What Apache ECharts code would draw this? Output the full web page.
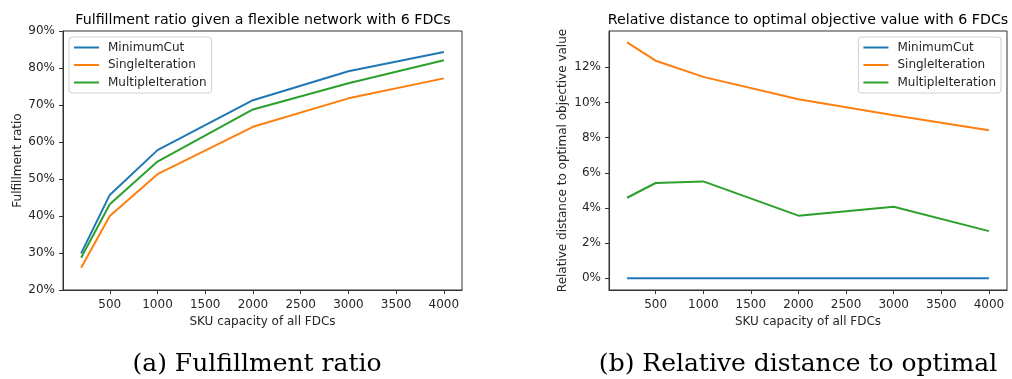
<!DOCTYPE html>
<html>
<head>
<meta charset="utf-8">
<script src="https://cdn.jsdelivr.net/npm/echarts@6/dist/echarts.min.js"></script>
<style>
  html, body { margin: 0; padding: 0; background: #fff; }
  #chart { width: 1012px; height: 379px; }
</style>
</head>
<body>
<div id="chart"></div>
<script>
// SKU capacity of all FDCs
var capacity = [200, 500, 1000, 2000, 3000, 4000];
var xTicks = [500, 1000, 1500, 2000, 2500, 3000, 3500, 4000];

// (a) fulfillment ratio, %
var fillMinimumCut = [29.9, 45.7, 57.8, 71.3, 79.1, 84.3];
var fillSingleIteration = [26.0, 40.0, 51.3, 64.1, 71.8, 77.2];
var fillMultipleIteration = [28.7, 43.2, 54.7, 68.8, 75.9, 82.1];

// (b) relative distance to optimal objective value, %
var distMinimumCut = [0, 0, 0, 0, 0, 0];
var distSingleIteration = [13.42, 12.38, 11.46, 10.19, 9.28, 8.42];
var distMultipleIteration = [4.58, 5.42, 5.51, 3.56, 4.07, 2.68];
var distTicks = [0, 2, 4, 6, 8, 10, 12];

var seriesNames = ['MinimumCut', 'SingleIteration', 'MultipleIteration'];
var colors = ['#1f77b4', '#ff7f0e', '#2ca02c'];

function pairs(ys) {
  return capacity.map(function (x, i) { return [x, ys[i]]; });
}

var font = 'DejaVu Sans';
var ink = '#262626';

function xAxis(idx) {
  return {
    type: 'value', gridIndex: idx, min: 10, max: 4190,
    name: 'SKU capacity of all FDCs', nameLocation: 'middle', nameGap: 21,
    nameTextStyle: { fontFamily: font, fontSize: 12, color: ink },
    axisLine: { show: true, onZero: false, lineStyle: { color: '#333', width: 1 } },
    axisTick: { show: true, length: 4, lineStyle: { color: '#333' }, customValues: xTicks },
    axisLabel: { fontFamily: font, fontSize: 12, color: ink, margin: 9, customValues: xTicks,
      formatter: function (v) { return String(v); } },
    splitLine: { show: false }
  };
}

var chart = echarts.init(document.getElementById('chart'));

var series = [];
[fillMinimumCut, fillSingleIteration, fillMultipleIteration].forEach(function (ys, i) {
  series.push({
    name: seriesNames[i], type: 'line', xAxisIndex: 0, yAxisIndex: 0,
    data: pairs(ys), symbol: 'none', lineStyle: { width: 2, color: colors[i] },
    itemStyle: { color: colors[i] }
  });
});
[distMinimumCut, distSingleIteration, distMultipleIteration].forEach(function (ys, i) {
  series.push({
    name: seriesNames[i], type: 'line', xAxisIndex: 1, yAxisIndex: 1,
    data: pairs(ys), symbol: 'none', lineStyle: { width: 2, color: colors[i] },
    itemStyle: { color: colors[i] }
  });
});

function legend(pos) {
  return Object.assign({
    data: seriesNames, orient: 'vertical', top: 37,
    icon: 'rect', itemWidth: 25, itemHeight: 2, itemGap: 3.5,
    padding: [3.5, 5, 3.5, 5],
    borderColor: '#d0d0d0', borderWidth: 1, borderRadius: 3,
    backgroundColor: 'rgba(255,255,255,0.8)',
    textStyle: { fontFamily: font, fontSize: 12, color: ink, lineHeight: 14, padding: [0, 0, 0, 4] },
    selectedMode: false
  }, pos);
}

var option = {
  backgroundColor: '#fff',
  animation: false,
  title: [
    { text: 'Fulfillment ratio given a flexible network with 6 FDCs', left: 263, top: 13, padding: 0, textAlign: 'center',
      textStyle: { fontFamily: font, fontSize: 14.2, fontWeight: 'normal', color: '#000' } },
    { text: 'Relative distance to optimal objective value with 6 FDCs', left: 808, top: 13, padding: 0, textAlign: 'center',
      textStyle: { fontFamily: font, fontSize: 14.2, fontWeight: 'normal', color: '#000' } },
    { text: '(a) Fulfillment ratio', left: 257, top: 352, padding: 0, textAlign: 'center',
      textStyle: { fontFamily: 'DejaVu Serif', fontSize: 25, fontWeight: 'normal', color: '#000' } },
    { text: '(b) Relative distance to optimal', left: 798, top: 352, padding: 0, textAlign: 'center',
      textStyle: { fontFamily: 'DejaVu Serif', fontSize: 25, fontWeight: 'normal', color: '#000' } }
  ],
  legend: [legend({ left: 69 }), legend({ right: 11 })],
  grid: [
    { left: 63, top: 31, width: 399, height: 259, show: true, borderColor: '#333', borderWidth: 1 },
    { left: 609, top: 31, width: 398, height: 259, show: true, borderColor: '#333', borderWidth: 1 }
  ],
  xAxis: [xAxis(0), xAxis(1)],
  yAxis: [
    {
      type: 'value', gridIndex: 0, min: 20, max: 90, interval: 10,
      name: 'Fulfillment ratio', nameLocation: 'middle', nameGap: 39,
      nameTextStyle: { fontFamily: font, fontSize: 12, color: ink },
      axisLine: { show: true, lineStyle: { color: '#333' } },
      axisTick: { show: true, length: 4, lineStyle: { color: '#333' } },
      axisLabel: { fontFamily: font, fontSize: 12, color: ink, margin: 8,
        formatter: function (v) { return v + '%'; } },
      splitLine: { show: false }
    },
    {
      type: 'value', gridIndex: 1, min: -0.67, max: 14.07,
      name: 'Relative distance to optimal objective value', nameLocation: 'middle', nameGap: 40,
      nameTextStyle: { fontFamily: font, fontSize: 12, color: ink },
      axisLine: { show: true, lineStyle: { color: '#333' } },
      axisTick: { show: true, length: 4, lineStyle: { color: '#333' }, customValues: distTicks },
      axisLabel: { fontFamily: font, fontSize: 12, color: ink, margin: 8, customValues: distTicks,
        formatter: function (v) { return Math.round(v) + '%'; } },
      splitLine: { show: false }
    }
  ],
  series: series
};

chart.setOption(option);
</script>
</body>
</html>
